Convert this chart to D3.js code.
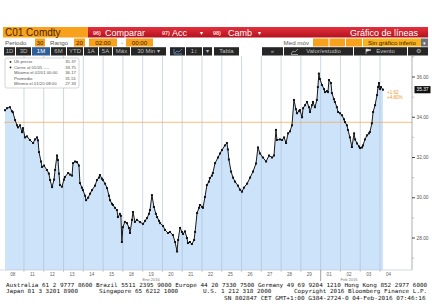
<!DOCTYPE html>
<html>
<head>
<meta charset="utf-8">
<script src="https://cdn.jsdelivr.net/npm/d3@7"></script>
<style>
  html, body { margin: 0; padding: 0; background: #fff; overflow: hidden; }
</style>
</head>
<body>
<div id="chart"></div>
<script>
// trading days shown on the axis (Jan 8 .. Feb 4 2016)
const dayLabels = ['08','11','12','13','14','15','18','19','20','21','22','25','26','27','28','29','01','02','03','04'];
const monthLabels = ['Ene 2016', 'Feb 2016'];
const monthDays = [7, 17];
const monthBreak = 16;

// 30 min bars, time in trading days from the Jan 8 open
const times = [
  0.04,0.14,0.29,0.39,0.44,0.55,0.65,0.70,0.80,0.90,0.95,
  1.05,1.15,1.30,1.46,1.56,1.66,1.71,1.76,1.86,1.91,
  2.01,2.16,2.26,2.32,2.42,2.52,2.57,2.67,2.72,2.77,2.82,2.92,
  3.02,3.07,3.23,3.33,3.43,3.48,3.58,3.68,3.78,3.83,3.93,3.98,
  4.09,4.14,4.24,4.34,4.44,4.59,4.69,4.79,4.84,4.94,
  4.99,5.10,5.20,5.30,5.35,5.45,5.50,5.60,5.70,5.75,5.85,5.90,
  5.95,6.00,6.10,6.21,6.31,6.36,6.46,6.51,6.61,6.71,6.87,
  7.02,7.12,7.22,7.32,7.37,7.47,7.57,7.67,7.73,7.83,7.88,
  8.03,8.13,8.28,8.38,8.53,8.64,8.74,8.79,8.89,8.99,
  9.04,9.14,9.24,9.29,9.39,9.49,9.60,9.65,9.75,9.85,9.90,
  10.00,10.05,10.15,10.25,10.35,10.40,10.50,10.55,10.66,10.81,10.91,
  11.01,11.16,11.26,11.31,11.36,11.47,11.57,11.67,11.82,11.92,
  12.02,12.12,12.28,12.43,12.58,12.73,12.83,12.93,
  13.08,13.24,13.39,13.54,13.64,13.74,13.79,13.94,
  14.05,14.15,14.25,14.35,14.45,14.55,14.65,14.75,14.80,14.90,14.95,
  15.06,15.11,15.21,15.31,15.41,15.46,15.56,15.61,15.71,15.81,15.86,15.91,15.96,
  16.07,16.17,16.22,16.32,16.37,16.42,16.52,16.57,16.67,16.72,16.82,16.88,16.98,
  17.08,17.18,17.23,17.33,17.38,17.48,17.58,17.69,17.74,17.84,17.94,17.99,
  18.09,18.14,18.24,18.34,18.44,18.49,18.59,18.65,18.75,18.85,18.90,18.95,
  19.00,19.05,19.15
];
const prices = [
  34.35,34.45,34.50,34.30,34.25,33.86,33.60,33.50,33.60,33.26,33.46,
  33.00,33.05,32.87,32.72,32.90,33.00,32.85,32.27,31.80,31.53,
  31.60,31.38,31.20,30.88,30.53,30.90,31.38,32.10,31.87,31.20,30.63,30.55,
  30.90,31.03,31.23,31.15,31.10,31.72,31.80,31.77,31.60,30.73,30.50,30.38,
  30.10,29.88,30.00,30.20,30.38,30.60,30.88,31.00,31.13,30.95,
  30.88,30.70,30.48,30.10,29.88,29.70,29.64,29.50,29.39,29.04,29.20,29.10,
  27.80,28.54,28.80,28.74,28.50,28.25,28.90,29.29,28.80,28.90,28.79,
  28.70,28.85,28.99,29.20,29.39,30.13,29.54,29.20,29.04,28.85,28.74,
  28.60,28.40,28.25,28.30,28.15,27.80,27.33,27.90,28.50,28.30,
  28.20,28.33,28.00,27.75,27.80,27.70,27.90,28.30,29.24,29.50,29.64,
  29.55,29.50,30.04,30.63,30.80,30.98,31.10,31.23,31.72,32.00,32.20,
  32.37,32.60,32.72,32.40,31.90,31.30,31.00,30.80,30.60,30.40,
  30.30,30.50,30.70,31.00,31.30,31.70,32.50,32.20,
  32.00,31.80,32.10,32.00,32.10,33.37,32.87,32.90,
  32.87,33.00,32.72,33.20,33.30,33.60,34.86,34.40,34.20,34.30,34.36,
  34.00,34.45,34.60,34.76,34.50,34.26,34.60,34.76,34.50,34.86,35.50,36.17,35.90,
  35.60,35.40,35.25,35.30,35.25,35.85,35.70,35.20,34.90,34.76,34.50,34.26,34.20,
  34.10,33.90,33.76,33.60,33.37,33.00,32.52,33.20,32.90,32.70,32.55,32.47,
  32.50,32.60,32.90,33.10,33.20,33.27,33.70,34.26,34.60,35.10,35.50,35.70,
  35.40,35.50,35.37
];

const yTicks = [28, 30, 32, 34, 36];
const yMinor = [27, 29, 31, 33, 35, 37];
const lastPrice = 35.37;
const prevClose = 33.75;
const changeLabels = ['+1.62', '+4.80%'];

const legendLabels = ['Últ precio', 'Cierre al 01/05 ----', 'Máximo el 02/01 00:00', 'Promedio', 'Mínimo el 01/20 08:00'];
const legendValues = ['35.37', '33.75', '36.17', '31.51', '27.33'];

const footerLines = [
  'Australia 61 2 9777 8600 Brazil 5511 2395 9000 Europe 44 20 7330 7500 Germany 49 69 9204 1210 Hong Kong 852 2977 6000',
  'Japan 81 3 3201 8900',
  'Singapore 65 6212 1000',
  'U.S. 1 212 318 2000',
  'Copyright 2016 Bloomberg Finance L.P.',
  'SN 802847 CET  GMT+1:00 G384-2724-0 04-Feb-2016 07:46:16'
];

(function () {
  const width = 432, height = 306;
  const plotTop = 56, plotBottom = 270, axisX = 412;
  const sans = '"Liberation Sans", Arial, sans-serif';
  const mono = '"DejaVu Sans Mono", "Liberation Mono", monospace';

  const svg = d3.select('#chart').append('svg')
    .attr('width', width)
    .attr('height', height)
    .style('font-family', sans);

  svg.append('rect').attr('width', width).attr('height', height).attr('fill', '#fff');

  const defs = svg.append('defs');
  const red = defs.append('linearGradient').attr('id', 'redbar')
    .attr('x1', 0).attr('x2', 0).attr('y1', 0).attr('y2', 1);
  red.append('stop').attr('offset', 0).attr('stop-color', '#e4313c');
  red.append('stop').attr('offset', 1).attr('stop-color', '#b3121f');

  // ---------- header bars ----------
  const head = svg.append('g');

  // row 1: ticker + red toolbar
  head.append('rect').attr('x', 3).attr('y', 27).attr('width', 85).attr('height', 10.5).attr('fill', '#f7a11c');
  head.append('text').attr('x', 5).attr('y', 36).text('C01 Comdty')
    .attr('font-size', 10).attr('fill', '#4a2400');
  head.append('rect').attr('x', 88).attr('y', 27).attr('width', 340).attr('height', 10.5).attr('fill', 'url(#redbar)');
  const redItems = [['96)', 93, 'Comparar', 105], ['97)', 162, 'Acc', 172], ['98)', 213, 'Camb', 228]];
  redItems.forEach(d => {
    head.append('text').attr('x', d[1]).attr('y', 35).text(d[0]).attr('font-size', 5.5).attr('font-weight', 'bold').attr('fill', '#ffd9d9');
    head.append('text').attr('x', d[3]).attr('y', 35.8).text(d[2]).attr('font-size', 9).attr('fill', '#fff');
  });
  head.append('text').attr('x', 200).attr('y', 35).text('▾').attr('font-size', 6).attr('fill', '#fff');
  head.append('text').attr('x', 258).attr('y', 35).text('▾').attr('font-size', 6).attr('fill', '#fff');
  head.append('text').attr('x', 418).attr('y', 35.8).attr('text-anchor', 'end').text('Gráfico de líneas')
    .attr('font-size', 9).attr('fill', '#fff');

  // row 2: period / range inputs
  const row2y = 38.5, row2h = 8;
  const txt2 = (x, s, anchor) => head.append('text').attr('x', x).attr('y', row2y + 6.2).text(s)
    .attr('font-size', 6.2).attr('fill', '#555').attr('text-anchor', anchor || 'start');
  const box2 = (x0, x1, s, fill) => {
    head.append('rect').attr('x', x0).attr('y', row2y).attr('width', x1 - x0).attr('height', row2h).attr('fill', fill || '#f7a11c');
    if (s) head.append('text').attr('x', (x0 + x1) / 2).attr('y', row2y + 6.2).attr('text-anchor', 'middle')
      .text(s).attr('font-size', 6.2).attr('fill', '#3a1d00');
  };
  txt2(5, 'Periodo');
  box2(35, 45, '30');
  txt2(50, 'Rango');
  box2(74, 85, '20');
  box2(89, 117, '02:00');
  txt2(121, '-');
  box2(126, 153, '00:00');
  txt2(309, 'Med móv', 'end');
  box2(313, 328.5); box2(329.5, 345); box2(346, 362);
  box2(363, 421, 'Sin gráfico inferio', '#f9b21e');
  head.append('rect').attr('x', 421).attr('y', row2y).attr('width', 7).attr('height', row2h).attr('fill', '#6b7079');
  head.append('text').attr('x', 424.5).attr('y', row2y + 6).attr('text-anchor', 'middle').text('▾').attr('font-size', 5).attr('fill', '#fff');

  // row 3: dark button strip
  const row3y = 47.2, row3h = 8.3;
  const buttons = [
    ['1D', 4, 15], ['3D', 16, 31], ['1M', 32, 50, true], ['6M', 51, 66], ['YTD', 67, 83],
    ['1A', 84, 98], ['5A', 99, 112], ['Máx', 113, 130], ['30 Min ▾', 131, 166],
    ['', 170, 185], ['1↕', 186, 202], ['▾', 203, 212], ['Tabla', 214, 239],
    ['«', 262, 283], ['Valor/estudio', 284, 353], ['Evento', 354, 407], ['⚙', 408, 428]
  ];
  buttons.forEach(b => {
    head.append('rect').attr('x', b[1]).attr('y', row3y).attr('width', b[2] - b[1]).attr('height', row3h)
      .attr('fill', b[3] ? '#2f5f96' : '#262626');
    head.append('text').attr('x', (b[1] + b[2]) / 2 + (b[0] === 'Valor/estudio' || b[0] === 'Evento' ? 5 : 0))
      .attr('y', row3y + 6.2).attr('text-anchor', 'middle').text(b[0])
      .attr('font-size', 6).attr('fill', b[3] ? '#fff' : '#bfbfbf');
  });
  // small icons on the strip
  head.append('path').attr('d', 'M174,54 L174,49 M174,54 L182,54 M175,53 L177,51 L179,52 L182,49')
    .attr('fill', 'none').attr('stroke', '#6fa8e6').attr('stroke-width', 0.7);
  head.append('path').attr('d', 'M291,54 L293,51 L295,52 L298,49 M291,54.5 L298,54.5')
    .attr('fill', 'none').attr('stroke', '#bfbfbf').attr('stroke-width', 0.7);
  head.append('path').attr('d', 'M366,54 L366,49 L371,50 L366,51.5')
    .attr('fill', '#e6e6e6').attr('stroke', '#e6e6e6').attr('stroke-width', 0.6);

  // ---------- plot ----------
  const x = d3.scaleLinear().domain([0, 19]).range([4.2, 380]);
  const y = d3.scaleLinear().domain([28, 36]).range([238, 77]);
  const pts = times.map((t, i) => ({ t: t, p: prices[i] }));

  const plot = svg.append('g');

  const area = d3.area()
    .x(d => x(d.t))
    .y0(plotBottom)
    .y1(d => y(d.p));
  plot.append('path').datum(pts).attr('d', area).attr('fill', '#cde3f9');

  // day gridlines
  plot.append('g').selectAll('line')
    .data(d3.range(1, dayLabels.length))
    .join('line')
    .attr('x1', d => x(d)).attr('x2', d => x(d))
    .attr('y1', plotTop).attr('y2', plotBottom)
    .attr('stroke', '#a9bed3').attr('stroke-width', 0.6);

  // previous close reference line
  plot.append('line')
    .attr('x1', 4).attr('x2', axisX)
    .attr('y1', y(prevClose)).attr('y2', y(prevClose))
    .attr('stroke', '#f4a347').attr('stroke-width', 0.7);

  // price line with markers
  const line = d3.line().x(d => x(d.t)).y(d => y(d.p));
  plot.append('path').datum(pts).attr('d', line)
    .attr('fill', 'none').attr('stroke', '#1a1a1a').attr('stroke-width', 1);
  plot.append('g').selectAll('rect')
    .data(pts)
    .join('rect')
    .attr('x', d => x(d.t) - 1).attr('y', d => y(d.p) - 1)
    .attr('width', 2).attr('height', 2)
    .attr('fill', '#111');

  // change annotation
  plot.append('g').selectAll('text')
    .data(changeLabels)
    .join('text')
    .attr('x', x(times[times.length - 1]) + 4)
    .attr('y', (d, i) => y(lastPrice) + 4 + i * 5)
    .text(d => d)
    .attr('font-size', 4.6).attr('fill', '#f09a2a');

  // ---------- right axis ----------
  const axis = svg.append('g');
  axis.append('line').attr('x1', axisX).attr('x2', axisX).attr('y1', plotTop).attr('y2', plotBottom)
    .attr('stroke', '#8c8c8c').attr('stroke-width', 0.7);
  axis.selectAll('.minor').data(yMinor).join('line').attr('class', 'minor')
    .attr('x1', axisX).attr('x2', axisX + 2)
    .attr('y1', d => y(d)).attr('y2', d => y(d))
    .attr('stroke', '#9a9a9a').attr('stroke-width', 0.6);
  axis.selectAll('.major').data(yTicks).join('line').attr('class', 'major')
    .attr('x1', axisX).attr('x2', axisX + 3)
    .attr('y1', d => y(d)).attr('y2', d => y(d))
    .attr('stroke', '#333').attr('stroke-width', 0.9);
  axis.selectAll('.lbl').data(yTicks).join('text').attr('class', 'lbl')
    .attr('x', axisX + 4.5).attr('y', d => y(d) + 1.7)
    .text(d => d3.format('.2f')(d))
    .attr('font-size', 4.8).attr('fill', '#555');

  // last price tag
  axis.append('rect').attr('x', axisX + 2.5).attr('y', y(lastPrice) - 3.6)
    .attr('width', 16).attr('height', 7.2).attr('fill', '#111');
  axis.append('text').attr('x', axisX + 10.5).attr('y', y(lastPrice) + 1.8).attr('text-anchor', 'middle')
    .text(d3.format('.2f')(lastPrice)).attr('font-size', 4.8).attr('fill', '#fff');

  // ---------- x axis ----------
  const xa = svg.append('g');
  xa.append('line').attr('x1', 0).attr('x2', axisX).attr('y1', plotBottom).attr('y2', plotBottom)
    .attr('stroke', '#b5c3d1').attr('stroke-width', 0.6);
  xa.selectAll('.tk').data(d3.range(1, dayLabels.length)).join('line').attr('class', 'tk')
    .attr('x1', d => x(d)).attr('x2', d => x(d))
    .attr('y1', plotBottom).attr('y2', d => d === monthBreak ? plotBottom + 11 : plotBottom + 2)
    .attr('stroke', d => d === monthBreak ? '#666' : '#aaa').attr('stroke-width', 0.6);
  xa.selectAll('.dl').data(dayLabels).join('text').attr('class', 'dl')
    .attr('x', (d, i) => x(i) + 8.5).attr('y', plotBottom + 6)
    .attr('text-anchor', 'middle').text(d => d)
    .attr('font-size', 4.6).attr('fill', '#666');
  xa.selectAll('.ml').data(monthLabels).join('text').attr('class', 'ml')
    .attr('x', (d, i) => x(monthDays[i]) + 8.5).attr('y', plotBottom + 10.5)
    .attr('text-anchor', 'middle').text(d => d)
    .attr('font-size', 4).attr('fill', '#777');

  // ---------- legend ----------
  const lg = svg.append('g');
  lg.append('rect').attr('x', 5).attr('y', 58).attr('width', 74).attr('height', 30).attr('rx', 2)
    .attr('fill', '#fff').attr('stroke', '#b8b8b8').attr('stroke-width', 0.6);
  legendLabels.forEach((s, i) => {
    const ly = 63.3 + i * 5.5;
    if (i < 2) lg.append('circle').attr('cx', 10.5).attr('cy', ly - 1.4).attr('r', 0.9).attr('fill', '#222');
    lg.append('text').attr('x', 14).attr('y', ly).text(s).attr('font-size', 4.3).attr('fill', '#555');
    lg.append('text').attr('x', 76).attr('y', ly).attr('text-anchor', 'end').text(legendValues[i])
      .attr('font-size', 4.3).attr('fill', '#555');
  });

  // ---------- footer (monospace, ~3.6px per character) ----------
  const ft = svg.append('g').style('font-family', mono).attr('font-size', 5.6).attr('fill', '#111');
  const fit = (s, fx, fy) => ft.append('text').attr('x', fx).attr('y', fy).text(s)
    .attr('textLength', s.length * 3.6).attr('lengthAdjust', 'spacingAndGlyphs');
  fit(footerLines[0], 6, 286.6);
  fit(footerLines[1], 6, 293.1);
  fit(footerLines[2], 99, 293.1);
  fit(footerLines[3], 203, 293.1);
  fit(footerLines[4], 294, 293.1);
  fit(footerLines[5], 224, 299.6);
})();
</script>
</body>
</html>
